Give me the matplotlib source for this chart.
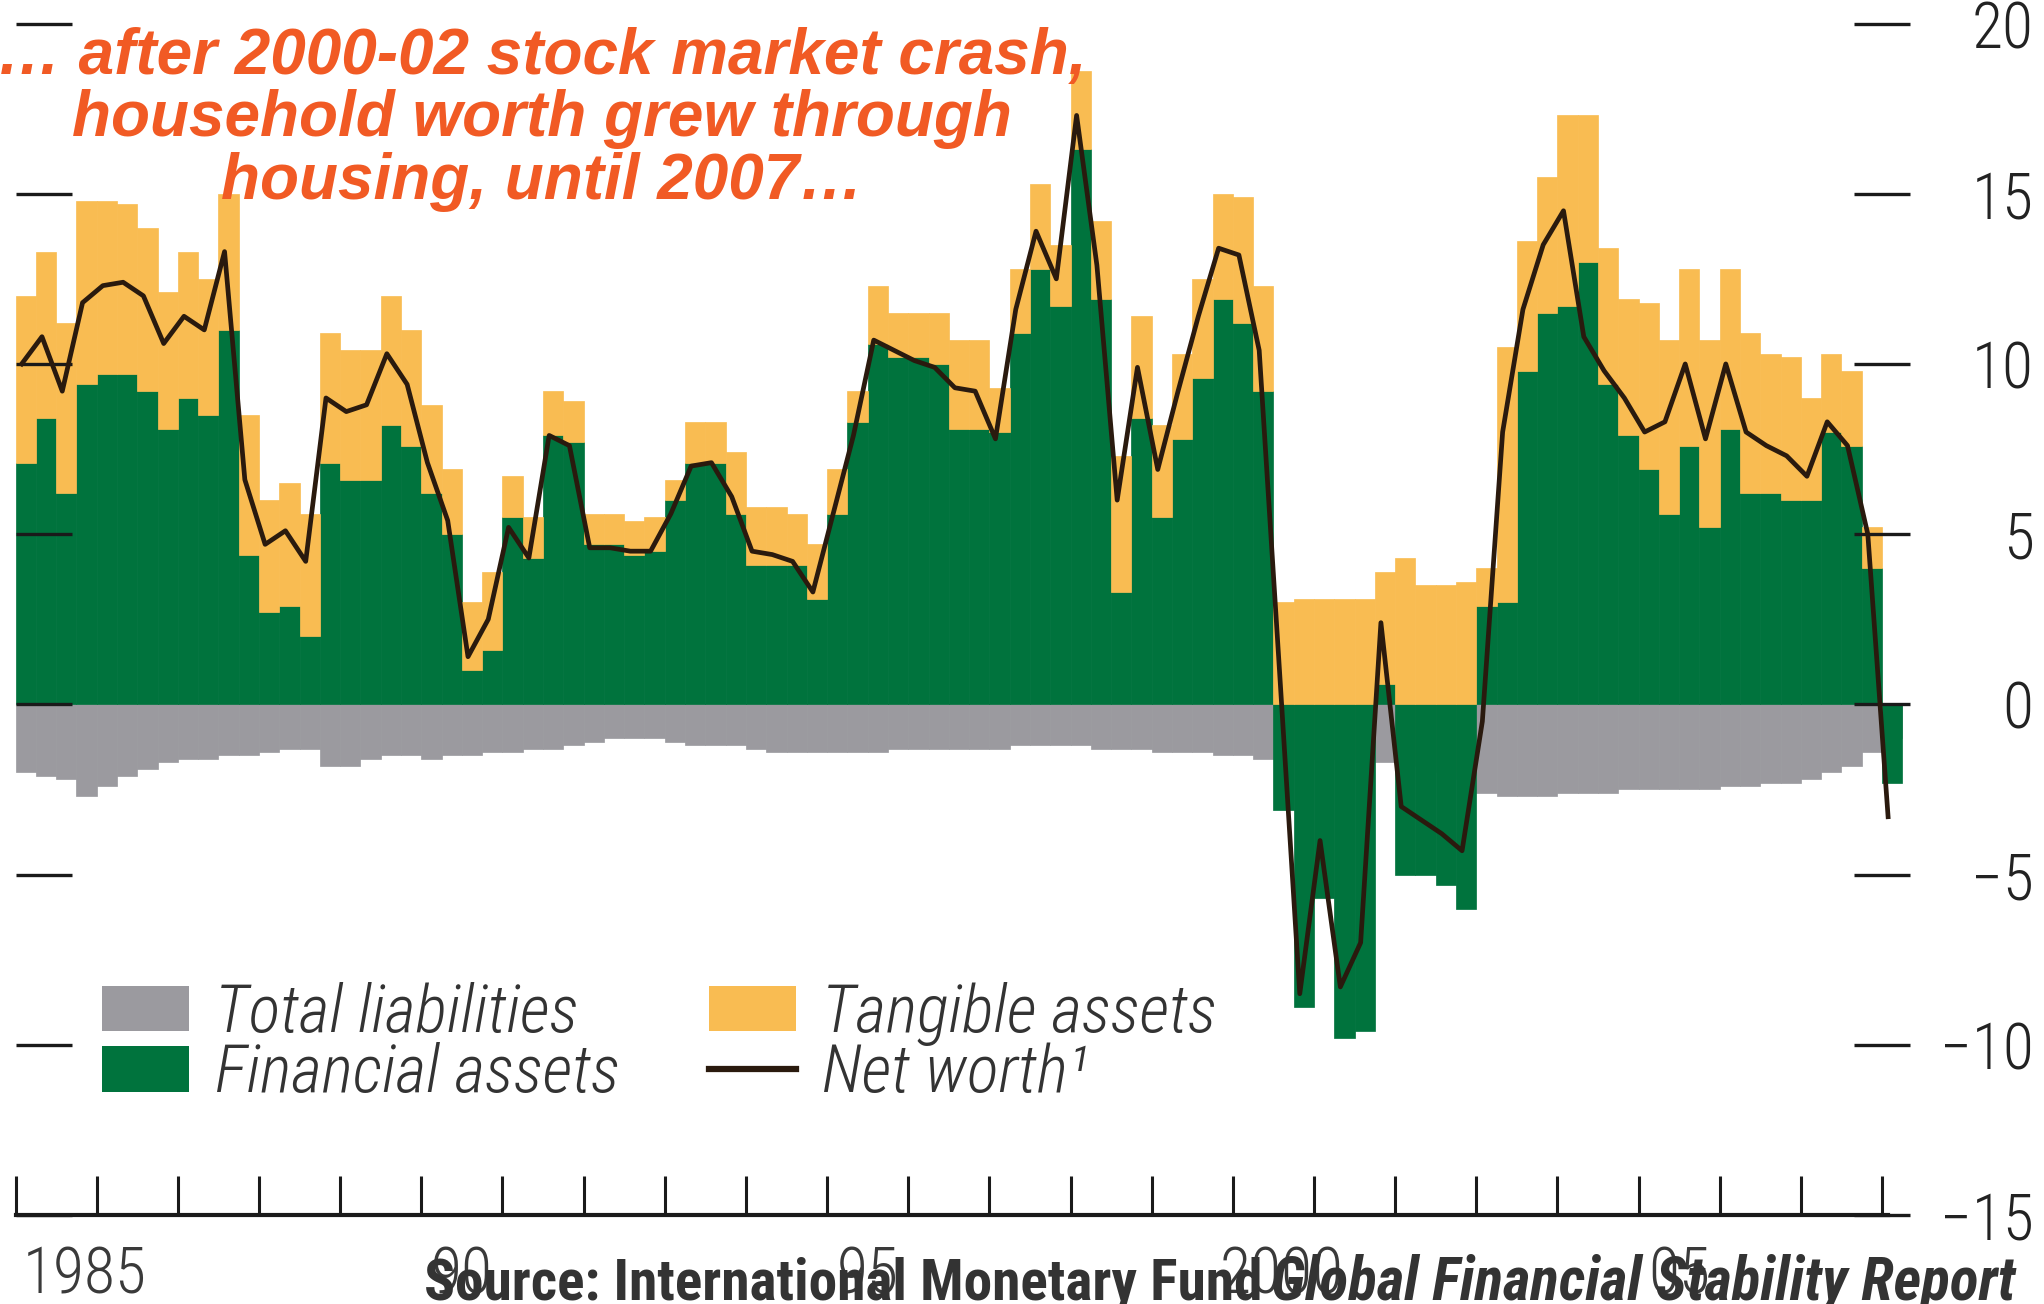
import numpy as np
import matplotlib
matplotlib.use("Agg")
import matplotlib.pyplot as plt
from matplotlib import font_manager as fm
from matplotlib.patches import Patch
from matplotlib.lines import Line2D

# ---------------- data (quarterly, 1985Q1 - 2008Q1), percent contributions ----------------
quarters = [f"{1985 + i // 4}Q{i % 4 + 1}" for i in range(93)]

financial = [
    7.1, 8.4, 6.2, 9.4, 9.7, 9.7, 9.2, 8.1, 9.0, 8.5,
    11.0, 4.4, 2.7, 2.9, 2.0, 7.1, 6.6, 6.6, 8.2, 7.6,
    6.2, 5.0, 1.0, 1.6, 5.5, 4.3, 7.9, 7.7, 4.7, 4.7,
    4.4, 4.5, 6.0, 7.1, 7.1, 5.6, 4.1, 4.1, 4.1, 3.1,
    5.6, 8.3, 10.6, 10.2, 10.2, 10.0, 8.1, 8.1, 8.0, 10.9,
    12.8, 11.7, 16.3, 11.9, 3.3, 8.4, 5.5, 7.8, 9.6, 11.9,
    11.2, 9.2, -3.1, -8.9, -5.7, -9.8, -9.6, 0.6, -5.0, -5.0,
    -5.3, -6.0, 2.9, 3.0, 9.8, 11.5, 11.7, 13.0, 9.4, 7.9,
    6.9, 5.6, 7.6, 5.2, 8.1, 6.2, 6.2, 6.0, 6.0, 8.0,
    7.6, 4.0, -2.3]

tangible = [
    4.9, 4.9, 5.0, 5.4, 5.1, 5.0, 4.8, 4.0, 4.3, 4.0,
    4.0, 4.1, 3.3, 3.6, 3.6, 3.8, 3.8, 3.8, 3.8, 3.4,
    2.6, 1.9, 2.0, 2.3, 1.2, 1.2, 1.3, 1.2, 0.9, 0.9,
    1.0, 1.0, 0.6, 1.2, 1.2, 1.8, 1.7, 1.7, 1.5, 1.6,
    1.3, 0.9, 1.7, 1.3, 1.3, 1.5, 2.6, 2.6, 1.3, 1.9,
    2.5, 1.8, 2.3, 2.3, 4.0, 3.0, 2.7, 2.5, 2.9, 3.1,
    3.7, 3.1, 3.0, 3.1, 3.1, 3.1, 3.1, 3.3, 4.3, 3.5,
    3.5, 3.6, 1.1, 7.5, 3.8, 4.0, 5.6, 4.3, 4.0, 4.0,
    4.9, 5.1, 5.2, 5.5, 4.7, 4.7, 4.1, 4.2, 3.0, 2.3,
    2.2, 1.2, 0.0]

liabilities = [
    -2.0, -2.1, -2.2, -2.7, -2.4, -2.1, -1.9, -1.7, -1.6, -1.6,
    -1.5, -1.5, -1.4, -1.3, -1.3, -1.8, -1.8, -1.6, -1.5, -1.5,
    -1.6, -1.5, -1.5, -1.4, -1.4, -1.3, -1.3, -1.2, -1.1, -1.0,
    -1.0, -1.0, -1.1, -1.2, -1.2, -1.2, -1.3, -1.4, -1.4, -1.4,
    -1.4, -1.4, -1.4, -1.3, -1.3, -1.3, -1.3, -1.3, -1.3, -1.2,
    -1.2, -1.2, -1.2, -1.3, -1.3, -1.3, -1.4, -1.4, -1.4, -1.5,
    -1.5, -1.6, -1.6, -1.6, -1.6, -1.6, -1.6, -1.7, -1.7, -1.8,
    -2.0, -2.2, -2.6, -2.7, -2.7, -2.7, -2.6, -2.6, -2.6, -2.5,
    -2.5, -2.5, -2.5, -2.5, -2.4, -2.4, -2.3, -2.3, -2.2, -2.0,
    -1.8, -1.4, -1.0]

net_worth = [
    10.0, 10.8, 9.2, 11.8, 12.3, 12.4, 12.0, 10.6, 11.4, 11.0,
    13.3, 6.6, 4.7, 5.1, 4.2, 9.0, 8.6, 8.8, 10.3, 9.4,
    7.1, 5.4, 1.4, 2.5, 5.2, 4.3, 7.9, 7.6, 4.6, 4.6,
    4.5, 4.5, 5.6, 7.0, 7.1, 6.1, 4.5, 4.4, 4.2, 3.3,
    5.6, 7.9, 10.7, 10.4, 10.1, 9.9, 9.3, 9.2, 7.8, 11.6,
    13.9, 12.5, 17.3, 12.9, 6.0, 9.9, 6.9, 9.2, 11.4, 13.4,
    13.2, 10.4, 1.0, -8.5, -4.0, -8.3, -7.0, 2.4, -3.0, -3.4,
    -3.8, -4.3, -0.5, 8.0, 11.6, 13.5, 14.5, 10.8, 9.8, 9.0,
    8.0, 8.3, 10.0, 7.8, 10.0, 8.0, 7.6, 7.3, 6.7, 8.3,
    7.6, 5.0, -3.3]

year_ticks = list(range(1985, 2009))
year_label_text = ["1985", "90", "95", "2000", "05"]
year_label_pos = [1985.85, 1990.5, 1995.5, 2000.6, 2005.5]
y_ticks = [-15, -10, -5, 0, 5, 10, 15, 20]

legend_labels = ["Total liabilities", "Financial assets", "Tangible assets", "Net worth\u00b9"]
title_text = "\u2026 after 2000-02 stock market crash,\nhousehold worth grew through\nhousing, until 2007\u2026"
source_a = "Source: International Monetary Fund"
source_b = "Global Financial Stability Report"

# ---------------- style ----------------
GREEN = "#00733D"
ORANGE = "#F9BC52"
GRAY = "#9B9A9F"
LINE = "#2A1A0E"
TITLE = "#F15A24"
TXT = "#333333"

names = {f.name for f in fm.fontManager.ttflist}
NARROW = "Liberation Sans"
for cand in ["Liberation Sans Narrow", "Arial Narrow", "Nimbus Sans Narrow",
             "Roboto Condensed", "Open Sans Condensed", "Liberation Sans"]:
    if cand in names:
        NARROW = cand
        break
FAM = [NARROW, "DejaVu Sans"]
TFAM = ["Liberation Sans", "DejaVu Sans"]
plt.rcParams["font.family"] = FAM

W, H = 2044, 1304
PX = 100 / 72.0  # pixels per point
fig = plt.figure(figsize=(W / 100, H / 100), dpi=100)
ax = fig.add_axes([15.6 / W, (H - 1215) / H, (1910 - 15.6) / W, (1215 - 6.5) / H])
ax.set_xlim(1985.0, 2008.345)
ax.set_ylim(-15, 20.5)

fig.canvas.draw()
r = fig.canvas.get_renderer()


def fit_size(text, target_px, base=40, **kw):
    t = fig.text(0, 0, text, fontsize=base, **kw)
    w = t.get_window_extent(r).width
    t.remove()
    return base * target_px / w


def qpos(q):
    y, n = q.split("Q")
    return int(y) + (int(n) - 1) * 0.25


x = np.array([qpos(q) for q in quarters])
fin = np.array(financial)
tan = np.array(tangible)
lia = np.array(liabilities)
nw = np.array(net_worth)

ax.bar(x, lia, width=0.25, align="edge", color=GRAY, edgecolor=GRAY, linewidth=0.5, zorder=1.0)
ax.bar(x, fin, width=0.25, align="edge", color=GREEN, edgecolor=GREEN, linewidth=0.5, zorder=1.1)
ax.bar(x, tan, width=0.25, bottom=np.maximum(fin, 0), align="edge", color=ORANGE,
       edgecolor=ORANGE, linewidth=0.5, zorder=1.2)
ax.plot(x + 0.075, nw, color=LINE, lw=3.4, zorder=2, solid_joinstyle="round")

for s in ["top", "left", "right"]:
    ax.spines[s].set_visible(False)
ax.spines["bottom"].set_linewidth(3.0)
ax.spines["bottom"].set_color("#1a1a1a")
ax.spines["bottom"].set_bounds(1985.0, 2008.07)
ax.spines["bottom"].set_position(("data", -15))

tick_size = fit_size("1985", 124, fontweight="light")

ax.set_xticks(year_ticks)
ax.set_xticklabels([])
ax.set_xticks(year_label_pos, minor=True)
ax.set_xticklabels(year_label_text, minor=True, fontweight="light")
ax.tick_params(axis="x", which="major", direction="in", length=28, width=2.2, color="#1a1a1a")
ax.tick_params(axis="x", which="minor", length=0, pad=21, labelsize=tick_size, labelcolor="#3a3a3a")

ax.set_yticks(y_ticks)
ax.set_yticklabels([str(v).replace("-", "\u2212") for v in y_ticks], fontweight="light")
ax.tick_params(axis="y", which="major", direction="in", left=True, right=True,
               labelleft=False, labelright=True, length=40, width=2.4, color="#1a1a1a",
               pad=89, labelsize=tick_size, labelcolor="#222222")
for lab in ax.get_yticklabels():
    lab.set_horizontalalignment("right")

# legend (font fitted to the reference label width)
leg_pt = fit_size("Financial assets", 404, fontstyle="italic", fontweight="light")
lp = leg_pt * PX
handles = [Patch(facecolor=GRAY), Patch(facecolor=GREEN), Patch(facecolor=ORANGE),
           Line2D([], [], color=LINE, lw=4.5)]
leg = ax.legend(handles, legend_labels, ncol=2, loc="upper left",
                bbox_to_anchor=(102 / W, 1 - 982 / H), bbox_transform=fig.transFigure,
                frameon=False,
                prop={"family": FAM, "style": "italic", "weight": "light", "size": leg_pt},
                labelcolor=TXT, handlelength=87 / lp, handleheight=45 / lp,
                handletextpad=26 / lp, columnspacing=89 / lp,
                labelspacing=(61.3 - 0.98 * lp) / lp, borderpad=0, borderaxespad=0)

# title, fitted to reference width
props_t = dict(fontfamily=TFAM, fontweight="bold", fontstyle="italic")
ts = fit_size("household worth grew through", 939, **props_t)
fig.text(542 / W, 1 - 27 / H, title_text, ha="center", va="top", ma="center", color=TITLE,
         fontsize=ts, linespacing=1.05, **props_t)

# source line
props_s = dict(fontfamily=FAM, fontweight="bold", color=TXT)
ss = fit_size(source_a, 838, **props_s)
ss2 = fit_size(source_b, 743, fontstyle="italic", **props_s)
fig.text(424 / W, 1 - 1299 / H, source_a, ha="left", va="baseline", fontsize=ss, **props_s)
fig.text(1271 / W, 1 - 1299 / H, source_b, ha="left", va="baseline", fontsize=ss2,
         fontstyle="italic", **props_s)

fig.savefig("out.png", dpi=100)
